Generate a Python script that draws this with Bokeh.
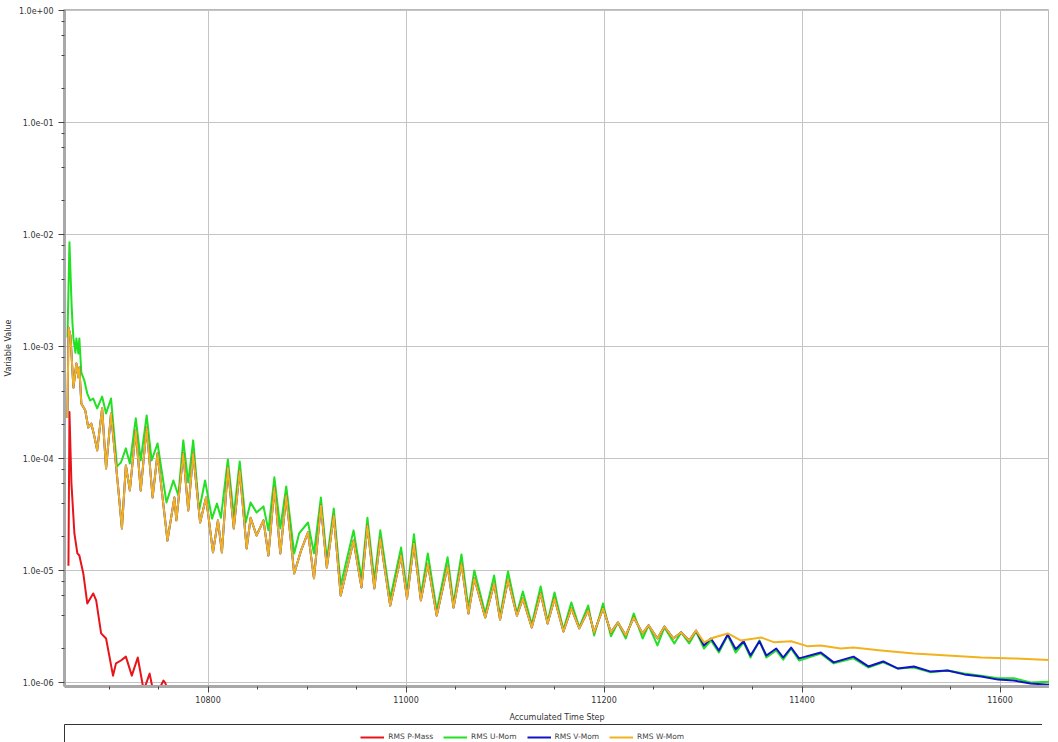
from bokeh.plotting import figure
from bokeh.layouts import column
from bokeh.models import (FixedTicker, CustomJSTickFormatter, Legend, LegendItem, Range1d)
from bokeh.embed import file_html
from bokeh.resources import INLINE

# ---------------- data ----------------
steps_p = [10659, 10660, 10662, 10665, 10668, 10670, 10674, 10678, 10681, 10684,
           10687, 10692, 10697, 10704, 10707, 10712, 10717, 10723, 10729, 10735,
           10741, 10745, 10750, 10755, 10757, 10760]
rms_p = [1.1e-5, 2.6e-4, 6.0e-5, 2.14e-5, 1.42e-5, 1.36e-5, 9.4e-6, 5.07e-6, 5.63e-6, 6.23e-6,
         5.4e-6, 2.74e-6, 2.47e-6, 1.15e-6, 1.48e-6, 1.57e-6, 1.7e-6, 1.15e-6, 1.67e-6, 0.85e-6,
         1.2e-6, 0.8e-6, 0.85e-6, 1.04e-6, 0.98e-6, 0.8e-6]

steps_u = [10658, 10660, 10662, 10663, 10664, 10666, 10667, 10669, 10670, 10672,
           10675, 10678, 10681, 10684, 10688, 10693, 10697, 10702, 10708, 10712,
           10717, 10721, 10727, 10732, 10738, 10743, 10749, 10758, 10765, 10770,
           10775, 10780, 10785, 10791, 10797, 10804, 10809, 10813, 10820, 10826,
           10832, 10838, 10843, 10849, 10856, 10861, 10867, 10873, 10879, 10887,
           10892, 10901, 10907, 10914, 10920, 10927, 10934, 10947, 10955, 10961,
           10968, 10974, 10984, 10995, 11001, 11008, 11015, 11022, 11031, 11042,
           11048, 11056, 11063, 11069, 11080, 11089, 11095, 11103, 11112, 11118,
           11127, 11136, 11143, 11150, 11159, 11167, 11175, 11184, 11190, 11199,
           11207, 11214, 11222, 11230, 11239, 11245, 11254, 11261, 11271, 11278,
           11286, 11293, 11301, 11308, 11316, 11325, 11333, 11341, 11348, 11357,
           11364, 11374, 11381, 11389, 11397, 11419, 11432, 11452, 11467, 11482,
           11497, 11513, 11530, 11547, 11564, 11581, 11598, 11614, 11631, 11660]
rms_u = [1.2e-3, 8.5e-3, 2.58e-3, 1.64e-3, 1.18e-3, 8.8e-4, 1.18e-3, 8.66e-4, 1.18e-3, 5.85e-4,
         4.97e-4, 3.8e-4, 3.29e-4, 3.43e-4, 2.8e-4, 3.57e-4, 2.52e-4, 3.43e-4, 8.5e-5, 9.2e-5,
         1.23e-4, 9.0e-5, 2.28e-4, 9.6e-5, 2.42e-4, 9.6e-5, 1.36e-4, 4.05e-5, 6.36e-5, 4.67e-5,
         1.45e-4, 6.1e-5, 1.45e-4, 3.43e-5, 6.36e-5, 2.9e-5, 3.95e-5, 2.95e-5, 9.8e-5, 3.1e-5,
         9.4e-5, 2.68e-5, 4.05e-5, 3.29e-5, 3.73e-5, 2.28e-5, 6.78e-5, 2.37e-5, 5.63e-5, 1.42e-5,
         2.14e-5, 2.68e-5, 1.42e-5, 4.48e-5, 1.23e-5, 3.57e-5, 7.35e-6, 2.28e-5, 8.5e-6, 2.95e-5,
         8.15e-6, 2.28e-5, 5.63e-6, 1.6e-5, 6.36e-6, 2.1e-5, 5.98e-6, 1.42e-5, 4.4e-6, 1.31e-5,
         5.07e-6, 1.39e-5, 4.58e-6, 1.0e-5, 4.13e-6, 9.0e-6, 3.88e-6, 9.8e-6, 4.13e-6, 6.48e-6,
         3.29e-6, 7.2e-6, 3.5e-6, 6.36e-6, 2.95e-6, 5.18e-6, 3.1e-6, 4.86e-6, 2.63e-6, 5.07e-6,
         2.58e-6, 3.43e-6, 2.47e-6, 4.13e-6, 2.47e-6, 3.23e-6, 2.14e-6, 3.1e-6, 2.23e-6, 2.8e-6,
         2.23e-6, 2.85e-6, 2.01e-6, 2.37e-6, 1.85e-6, 2.63e-6, 1.85e-6, 2.28e-6, 1.67e-6, 2.37e-6,
         1.67e-6, 1.93e-6, 1.6e-6, 2.01e-6, 1.57e-6, 1.81e-6, 1.48e-6, 1.64e-6, 1.36e-6, 1.51e-6,
         1.33e-6, 1.36e-6, 1.23e-6, 1.28e-6, 1.2e-6, 1.15e-6, 1.09e-6, 1.09e-6, 1.0e-6, 1.02e-6]

steps_w = [10658, 10659, 10661, 10664, 10667, 10669, 10670, 10672, 10676, 10679,
           10682, 10685, 10688, 10693, 10697, 10702, 10709, 10713, 10717, 10721,
           10727, 10732, 10738, 10744, 10749, 10759, 10766, 10768, 10775, 10780,
           10785, 10792, 10798, 10805, 10810, 10814, 10820, 10826, 10832, 10839,
           10843, 10849, 10856, 10861, 10867, 10873, 10879, 10887, 10894, 10901,
           10907, 10914, 10920, 10927, 10934, 10947, 10955, 10961, 10968, 10974,
           10984, 10995, 11001, 11008, 11015, 11022, 11031, 11042, 11048, 11056,
           11063, 11069, 11080, 11089, 11095, 11103, 11112, 11118, 11127, 11136,
           11143, 11150, 11159, 11167, 11175, 11184, 11190, 11199, 11207, 11214,
           11222, 11230, 11239, 11245, 11254, 11261, 11270, 11278, 11286, 11293,
           11301, 11311, 11325, 11338, 11359, 11372, 11389, 11406, 11419, 11439,
           11452, 11480, 11513, 11547, 11581, 11614, 11660]
rms_w = [2.3e-4, 1.48e-3, 1.25e-3, 4.3e-4, 7.05e-4, 5.3e-4, 6.5e-4, 3.1e-4, 2.68e-4, 1.89e-4,
         2.05e-4, 1.6e-4, 1.18e-4, 2.8e-4, 8.15e-5, 2.52e-4, 5.74e-5, 2.37e-5, 8.66e-5, 5.18e-5,
         1.78e-4, 5.18e-5, 1.89e-4, 4.48e-5, 1.11e-4, 1.85e-5, 4.48e-5, 2.8e-5, 1.11e-4, 3.43e-5,
         1.11e-4, 2.68e-5, 4.48e-5, 1.45e-5, 2.8e-5, 1.45e-5, 8.3e-5, 2.37e-5, 7.81e-5, 1.57e-5,
         2.95e-5, 2.05e-5, 2.8e-5, 1.36e-5, 5.5e-5, 1.42e-5, 4.67e-5, 9.4e-6, 1.51e-5, 2.19e-5,
         8.5e-6, 3.8e-5, 1.06e-5, 3.1e-5, 5.98e-6, 1.85e-5, 7.05e-6, 2.52e-5, 6.9e-6, 1.93e-5,
         4.86e-6, 1.36e-5, 5.63e-6, 1.74e-5, 5.4e-6, 1.15e-5, 3.95e-6, 1.09e-5, 4.67e-6, 1.15e-5,
         4.13e-6, 8.5e-6, 3.8e-6, 7.66e-6, 3.65e-6, 8.3e-6, 3.95e-6, 5.63e-6, 3.1e-6, 6.23e-6,
         3.36e-6, 5.63e-6, 2.85e-6, 4.58e-6, 3.04e-6, 4.4e-6, 2.8e-6, 4.58e-6, 2.8e-6, 3.43e-6,
         2.63e-6, 3.8e-6, 2.74e-6, 3.23e-6, 2.47e-6, 3.16e-6, 2.47e-6, 2.8e-6, 2.37e-6, 2.9e-6,
         2.28e-6, 2.52e-6, 2.74e-6, 2.37e-6, 2.52e-6, 2.28e-6, 2.33e-6, 2.1e-6, 2.14e-6, 2.01e-6,
         2.05e-6, 1.93e-6, 1.81e-6, 1.74e-6, 1.67e-6, 1.64e-6, 1.57e-6]

# V-Mom: coincides with W-Mom up to step 11293, then runs with U-Mom
steps_v_late = [11301, 11308, 11316, 11325, 11333, 11341, 11348, 11357, 11364, 11374,
                11381, 11389, 11397, 11419, 11432, 11452, 11467, 11482, 11497, 11513,
                11530, 11547, 11564, 11581, 11598, 11614, 11631, 11660]
rms_v_late = [2.14e-6, 2.47e-6, 1.93e-6, 2.68e-6, 1.98e-6, 2.33e-6, 1.74e-6, 2.33e-6, 1.74e-6, 2.01e-6,
              1.67e-6, 2.05e-6, 1.64e-6, 1.85e-6, 1.51e-6, 1.7e-6, 1.39e-6, 1.54e-6, 1.33e-6, 1.39e-6,
              1.25e-6, 1.28e-6, 1.18e-6, 1.13e-6, 1.06e-6, 1.04e-6, 0.98e-6, 0.94e-6]
steps_v = steps_w[:100] + steps_v_late
rms_v = rms_w[:100] + rms_v_late

series_names = ["RMS P-Mass", "RMS U-Mom", "RMS V-Mom", "RMS W-Mom"]
series_colors = ["#e8141a", "#22e022", "#1212c8", "#f2b21e"]

y_major = [1e-6, 1e-5, 1e-4, 1e-3, 1e-2, 1e-1, 1e0]
x_major = [10800, 11000, 11200, 11400, 11600]

series = [(steps_p, rms_p), (steps_u, rms_u), (steps_v, rms_v), (steps_w, rms_w)]

# ---------------- main figure ----------------
FONT = "DejaVu Sans"
p = figure(frame_width=985, frame_height=677, y_axis_type="log", output_backend="svg",
           toolbar_location=None,
           x_range=Range1d(10655, 11650), y_range=Range1d(9.2e-7, 1.02),
           min_border_left=57, min_border_right=0, min_border_top=9, min_border_bottom=36)
p.background_fill_color = "white"
p.border_fill_color = "white"
p.outline_line_color = "#b8b8b8"
p.outline_line_width = 1

for (xs, ys), col in zip(series, series_colors):
    p.line(xs, ys, line_color=col, line_width=2, line_join="round")

y_minor = [k * m for m in [1e-7, 1e-6, 1e-5, 1e-4, 1e-3, 1e-2, 1e-1] for k in (2, 4, 6, 8)]
p.yaxis.ticker = FixedTicker(ticks=y_major, minor_ticks=y_minor)
p.yaxis.formatter = CustomJSTickFormatter(code="""
const s = tick.toExponential(1);
const parts = s.split('e');
const sign = parts[1][0];
let d = parts[1].slice(1);
if (d.length < 2) { d = '0' + d; }
return parts[0] + 'e' + sign + d;
""")
x_minor = [v for v in range(10650, 11700, 50) if v not in x_major]
p.xaxis.ticker = FixedTicker(ticks=x_major, minor_ticks=x_minor)

for ax in (p.xaxis, p.yaxis):
    ax.axis_line_color = "#a8a8a8"
    ax.axis_line_width = 3
    ax.major_tick_line_color = "#444444"
    ax.major_tick_in = 0
    ax.major_tick_out = 6
    ax.minor_tick_line_color = "#444444"
    ax.minor_tick_in = 0
    ax.minor_tick_out = 3
    ax.major_label_text_font = FONT
    ax.major_label_text_font_size = "8px"
    ax.major_label_text_color = "#333333"
    ax.axis_label_text_font = FONT
    ax.axis_label_text_font_size = "8px"
    ax.axis_label_text_font_style = "normal"
    ax.axis_label_text_color = "#333333"

p.yaxis.axis_label = "Variable Value"
p.yaxis.major_label_standoff = 5
p.yaxis.axis_label_standoff = 3
p.xaxis.axis_label = "Accumulated Time Step"
p.xaxis.major_label_standoff = 3
p.xaxis.axis_label_standoff = 7

p.xgrid.grid_line_color = "#c4c4c4"
p.ygrid.grid_line_color = "#c4c4c4"
p.xgrid.grid_line_width = 1
p.ygrid.grid_line_width = 1

# ---------------- legend strip (boxed panel under the chart) ----------------
leg = figure(frame_width=987, frame_height=26, output_backend="svg", toolbar_location=None,
             x_axis_location=None, y_axis_location=None,
             x_range=Range1d(0, 1), y_range=Range1d(0, 1),
             min_border_left=55, min_border_right=0, min_border_top=0, min_border_bottom=0)
leg.background_fill_color = "white"
leg.border_fill_color = "white"
leg.outline_line_color = "#333333"
leg.outline_line_width = 1
leg.xgrid.visible = False
leg.ygrid.visible = False
# the series themselves serve as legend proxies (they fall outside this strip's ranges)
proxies = [leg.line(xs, ys, line_color=c, line_width=2) for (xs, ys), c in zip(series, series_colors)]
legend = Legend(items=[LegendItem(label=n, renderers=[r]) for n, r in zip(series_names, proxies)],
                orientation="horizontal", location=(342, 9),
                label_text_font=FONT, label_text_font_size="7.5px", label_text_color="#444444",
                label_height=8, glyph_width=24, glyph_height=8, label_standoff=4, spacing=10,
                padding=0, margin=0, border_line_color=None, background_fill_alpha=0)
leg.add_layout(legend, "center")

layout = column(p, leg, spacing=0)
open("out.html", "w").write(file_html(layout, INLINE))
